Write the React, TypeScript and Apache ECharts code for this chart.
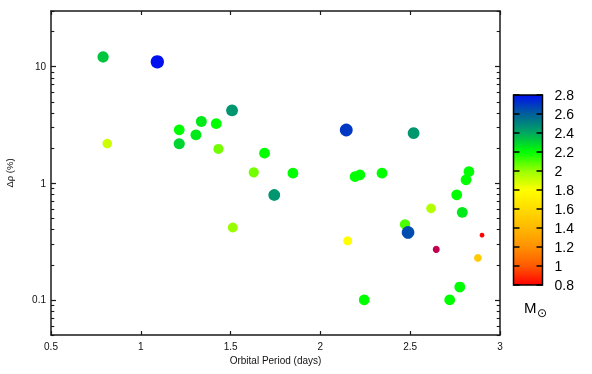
import React, { useEffect, useRef } from "react";
import * as echarts from "echarts";

// Orbital period (days), Δρ (%), mass (M☉)
const PERIOD = [0.79, 1.092, 0.813, 1.214, 1.214, 1.307, 1.337, 1.42, 1.432, 1.508, 1.512, 1.629, 1.689, 1.743, 1.847, 2.144, 2.193, 2.22, 2.343, 2.519, 2.152, 2.244, 2.471, 2.488, 2.616, 2.72, 2.776, 2.759, 2.79, 2.811, 2.827, 2.877, 2.9];
const DELTA_RHO = [12.1, 11.0, 2.19, 2.87, 2.18, 2.6, 3.39, 3.24, 1.97, 4.21, 0.418, 1.24, 1.81, 0.793, 1.22, 2.86, 1.14, 1.18, 1.22, 2.69, 0.321, 0.1, 0.444, 0.379, 0.61, 0.1, 0.129, 0.796, 0.563, 1.07, 1.26, 0.229, 0.359];
const MASS = [2.33, 2.8, 1.9, 2.2, 2.3, 2.25, 2.25, 2.2, 2.05, 2.45, 2.0, 2.05, 2.2, 2.45, 2.2, 2.7, 2.2, 2.2, 2.2, 2.45, 1.8, 2.2, 2.1, 2.65, 1.95, 2.2, 2.2, 2.2, 2.25, 2.2, 2.2, 1.5, 0.8];

// point without a mass colour (drawn in crimson)
const ODD_PERIOD = [2.645];
const ODD_DELTA_RHO = [0.271];

const X_TICKS = [0.5, 1, 1.5, 2, 2.5, 3];
const Y_MAJOR = [0.1, 1, 10];
const Y_MINOR = [0.05, 0.06, 0.07, 0.08, 0.09, 0.2, 0.3, 0.4, 0.5, 0.6, 0.7, 0.8, 0.9, 2, 3, 4, 5, 6, 7, 8, 9, 20, 30];
const Y_MIN = 0.05;
const Y_MAX = 30;
const MASS_TICKS = [0.8, 1, 1.2, 1.4, 1.6, 1.8, 2, 2.2, 2.4, 2.6, 2.8];
const MASS_MIN = 0.8;
const MASS_MAX = 2.8;
const MASS_COLORS = ["#ff0000", "#ff5a00", "#ff9000", "#ffb800", "#ffdc00", "#ffff00", "#99ff00", "#00ff00", "#00a860", "#00609a", "#0010ee"];

const FONT = "Liberation Sans, Arial, sans-serif";
const lg = (v: number) => Math.log10(v);

export default function App() {
  const ref = useRef<HTMLDivElement>(null);
  useEffect(() => {
    document.body.style.margin = "0";
    const chart = echarts.init(ref.current!, null, { renderer: "svg" });
    const data = PERIOD.map((p, i) => [p, lg(DELTA_RHO[i]), MASS[i]]);
    const oddData = ODD_PERIOD.map((p, i) => [p, lg(ODD_DELTA_RHO[i])]);
    const gradient = new echarts.graphic.LinearGradient(
      0, 1, 0, 0,
      MASS_COLORS.map((c, i) => ({ offset: i / (MASS_COLORS.length - 1), color: c }))
    );
    const axisLine = { show: true, onZero: false, lineStyle: { color: "#1a1a1a", width: 1.5 } };
    const noLine = { show: false, onZero: false };
    const yBase = {
      type: "value",
      gridIndex: 0,
      min: lg(Y_MIN),
      max: lg(Y_MAX),
      splitLine: { show: false },
    };
    const fmtY = (v: number) => String(Number(Math.pow(10, v).toPrecision(3)));
    chart.setOption({
      animation: false,
      textStyle: { fontFamily: FONT },
      grid: [
        { left: 51, right: 92, top: 11, bottom: 39, show: false, containLabel: false, outerBoundsMode: "none" },
        {
          left: 513.5, top: 95, width: 29, height: 190, show: true, containLabel: false, outerBoundsMode: "none",
          backgroundColor: gradient, borderColor: "#000", borderWidth: 1.5,
        },
      ],
      xAxis: [
        {
          type: "value", gridIndex: 0, min: 0.5, max: 3, interval: 0.5, position: "bottom",
          name: "Orbital Period (days)", nameLocation: "middle", nameGap: 20,
          nameTextStyle: { fontSize: 10, color: "#111", fontFamily: FONT },
          axisLine,
          axisTick: { show: true, inside: true, length: 4, lineStyle: { color: "#1a1a1a", width: 1.2 } },
          axisLabel: { fontSize: 10, color: "#111", margin: 6, customValues: X_TICKS },
          splitLine: { show: false },
        },
        {
          type: "value", gridIndex: 0, min: 0.5, max: 3, interval: 0.5, position: "top",
          axisLine,
          axisTick: { show: true, inside: true, length: 4, lineStyle: { color: "#1a1a1a", width: 1.2 } },
          axisLabel: { show: false },
          splitLine: { show: false },
        },
        { type: "value", gridIndex: 1, min: 0, max: 1, show: false },
      ],
      yAxis: [
        {
          ...yBase, position: "left",
          name: "Δρ (%)", nameLocation: "middle", nameRotate: 90, nameGap: 37,
          nameTextStyle: { fontSize: 9.5, color: "#111", fontFamily: FONT },
          axisLine,
          axisTick: { show: true, inside: true, length: 5, customValues: Y_MAJOR.map(lg), lineStyle: { color: "#1a1a1a", width: 1.2 } },
          axisLabel: { fontSize: 10, color: "#111", margin: 5, customValues: Y_MAJOR.map(lg), formatter: fmtY },
        },
        {
          ...yBase, position: "left", offset: 0,
          axisLine: noLine,
          axisTick: { show: true, inside: true, length: 3.3, customValues: Y_MINOR.map(lg), lineStyle: { color: "#1a1a1a", width: 1.1 } },
          axisLabel: { show: false },
        },
        {
          ...yBase, position: "right", offset: 0,
          axisLine,
          axisTick: { show: true, inside: true, length: 5, customValues: Y_MAJOR.map(lg), lineStyle: { color: "#1a1a1a", width: 1.2 } },
          axisLabel: { show: false },
        },
        {
          ...yBase, position: "right", offset: 0,
          axisLine: noLine,
          axisTick: { show: true, inside: true, length: 3.3, customValues: Y_MINOR.map(lg), lineStyle: { color: "#1a1a1a", width: 1.1 } },
          axisLabel: { show: false },
        },
        {
          type: "value", gridIndex: 1, min: MASS_MIN, max: MASS_MAX, position: "left",
          axisLine: noLine,
          axisTick: { show: true, inside: true, length: 6, customValues: MASS_TICKS, lineStyle: { color: "#000", width: 1.5 } },
          axisLabel: { show: false },
          splitLine: { show: false },
        },
        {
          type: "value", gridIndex: 1, min: MASS_MIN, max: MASS_MAX, position: "right",
          axisLine: noLine,
          axisTick: { show: true, inside: true, length: 6, customValues: MASS_TICKS, lineStyle: { color: "#000", width: 1.5 } },
          axisLabel: { show: true, fontSize: 14, color: "#000", margin: 12, customValues: MASS_TICKS, fontFamily: FONT },
          splitLine: { show: false },
        },
      ],
      visualMap: {
        type: "continuous",
        show: false,
        seriesIndex: 0,
        dimension: 2,
        min: MASS_MIN,
        max: MASS_MAX,
        inRange: { color: MASS_COLORS, symbolSize: [4.7, 13.3] },
      },
      series: [
        {
          type: "scatter", xAxisIndex: 0, yAxisIndex: 0, data,
          symbol: "circle", itemStyle: { opacity: 1 },
        },
        {
          type: "scatter", xAxisIndex: 0, yAxisIndex: 0, data: oddData,
          symbol: "circle", symbolSize: 7, itemStyle: { color: "#c2004e", opacity: 1 },
        },
      ],
      graphic: [
        {
          type: "text", left: 524, top: 300,
          style: { text: "M", fontSize: 15, fill: "#000", fontFamily: FONT },
        },
        {
          type: "text", left: 537, top: 307,
          style: { text: "⊙", fontSize: 12, fill: "#000", fontFamily: "DejaVu Sans, sans-serif" },
        },
      ],
    });
    return () => chart.dispose();
  }, []);
  return <div ref={ref} style={{ position: "fixed", left: 0, top: 0, width: 592, height: 374 }} />;
}
